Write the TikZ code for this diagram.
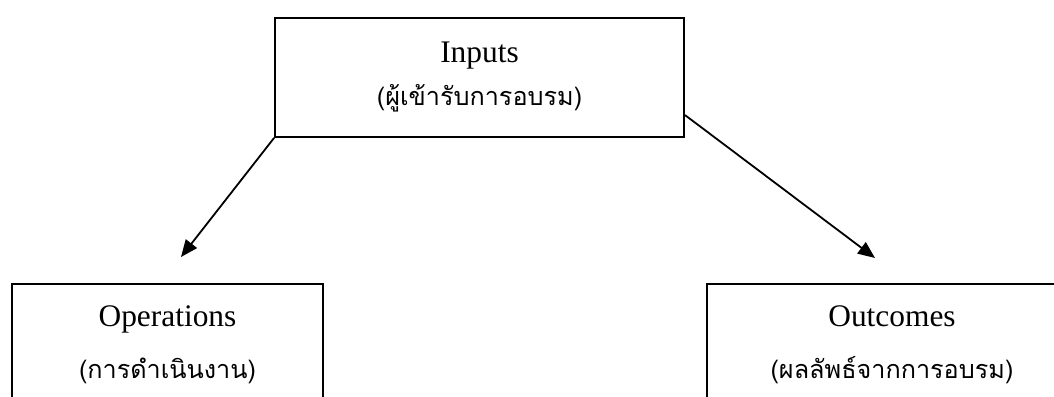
\documentclass[tikz,border=0pt]{standalone}
\usepackage{fontspec}
\setmainfont{Liberation Serif}
\newfontfamily\thaifont[Script=Thai]{Loma}
\usetikzlibrary{arrows.meta,positioning}
\tikzset{
  box/.style={draw, line width=0.9pt, align=center, inner xsep=0pt,
    font=\fontsize{15.7}{20}\selectfont},
  lowbox/.style={box, anchor=north, inner ysep=11pt, text depth=90pt},
  flow/.style={draw, line width=0.9pt, -{Triangle[length=8.5pt,width=7pt]}}
}
\newcommand{\thline}[1]{{\thaifont\fontsize{12.6}{20}\selectfont #1}}

\begin{document}
\begin{tikzpicture}[x=0.5pt, y=-0.5pt]
  \useasboundingbox (0,0) rectangle (1054,396);
  \clip (0,0) rectangle (1054,396);

  \node[box, minimum width=204.5pt, minimum height=59.5pt] (inputs) at (479.5,77.5)
    {Inputs\\[1.5pt] \thline{(ผู้เข้ารับการอบรม)}};
  \node[lowbox, minimum width=155.5pt] (operations) at (167.5,283)
    {Operations\\[6pt] \thline{(การดำเนินงาน)}};
  \node[lowbox, minimum width=185pt] (outcomes) at (892,283)
    {Outcomes\\[6pt] \thline{(ผลลัพธ์จากการอบรม)}};

  % arrows stop short of the lower boxes
  \coordinate (opsend) at (181,257);
  \coordinate (outend) at (875,258);
  \draw[flow] (inputs.south west) -- (opsend);
  \draw[flow] ([yshift=-18.75pt]inputs.east) -- (outend);
\end{tikzpicture}
\end{document}
